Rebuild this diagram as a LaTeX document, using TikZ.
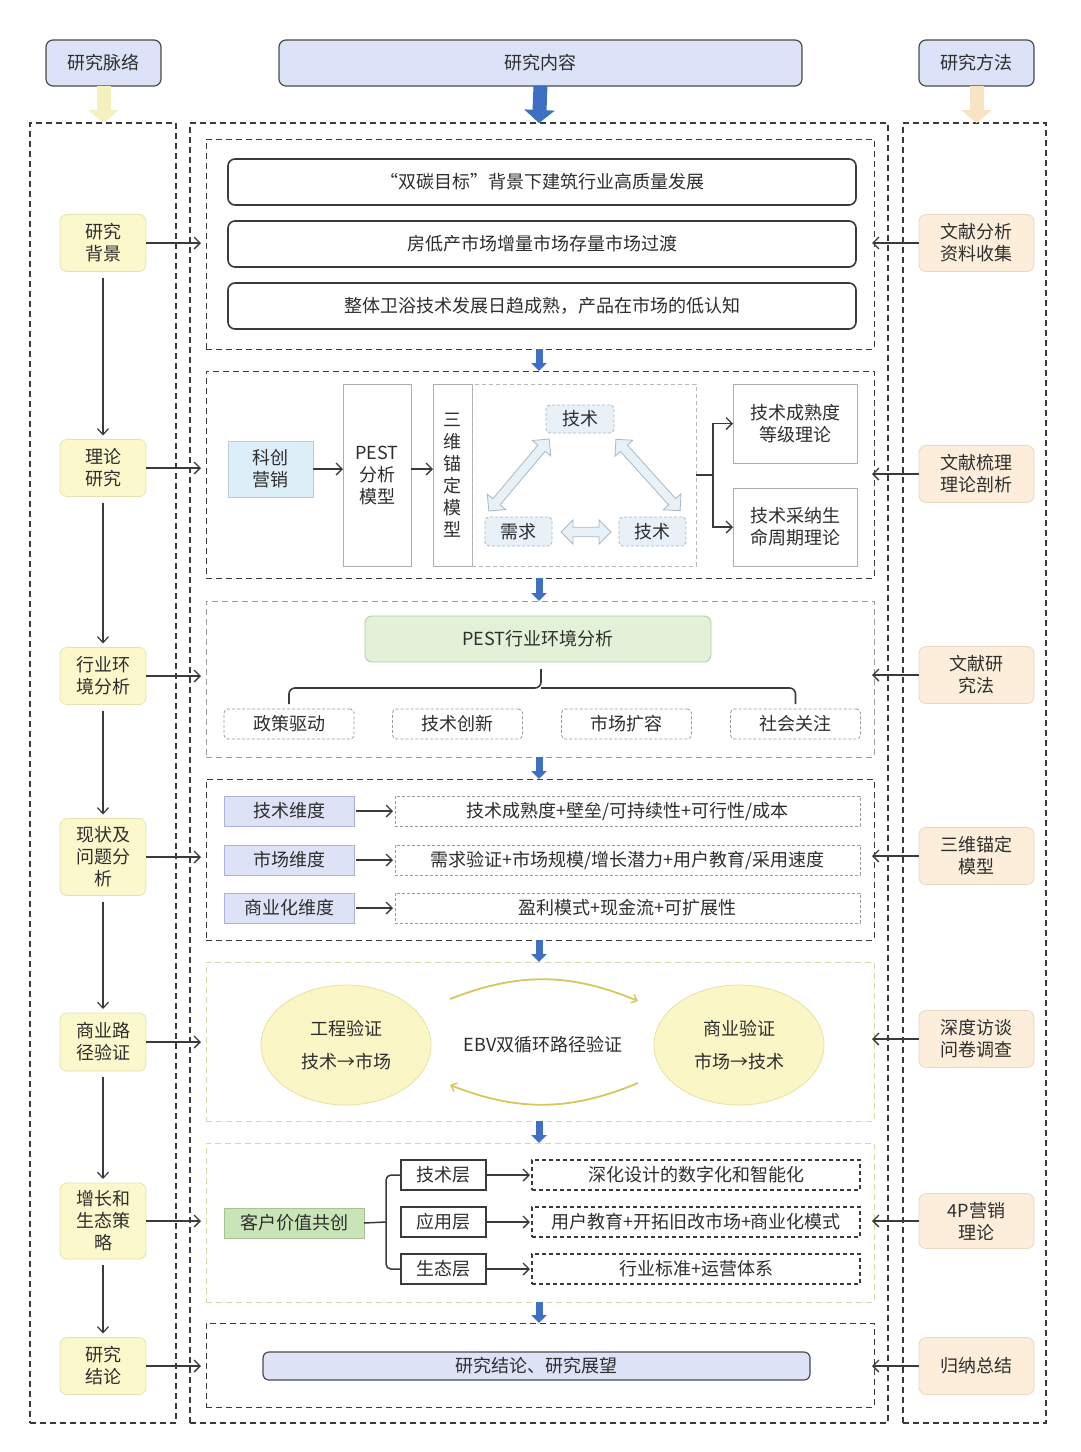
\documentclass[tikz,border=0pt]{standalone}
\usepackage{fontspec}
\setmainfont{Noto Sans CJK SC}
\usetikzlibrary{arrows.meta,shapes.geometric,shapes.arrows,calc}
\definecolor{txt}{HTML}{2E2E2E}
\definecolor{dk}{HTML}{3A3A3A}
\definecolor{hdrF}{HTML}{DCE2F7}
\definecolor{hdrB}{HTML}{4A4A4A}
\definecolor{lyF}{HTML}{FBF8CC}
\definecolor{lyB}{HTML}{E6E2AE}
\definecolor{rpF}{HTML}{FCEEDA}
\definecolor{rpB}{HTML}{E8D8BE}
\definecolor{blueA}{HTML}{3D6FC2}
\definecolor{paleY}{HTML}{F4F1BE}
\definecolor{paleP}{HTML}{F8E3C2}
\definecolor{kcF}{HTML}{DDEEF8}
\definecolor{kcB}{HTML}{B8CCDA}
\definecolor{triF}{HTML}{E8F1F8}
\definecolor{triB}{HTML}{A8B8C4}
\definecolor{grnF}{HTML}{E3F1D8}
\definecolor{grnB}{HTML}{B4CDA4}
\definecolor{kvF}{HTML}{C9E4B6}
\definecolor{kvB}{HTML}{A6C493}
\definecolor{lavF}{HTML}{DDE2F6}
\definecolor{lavB}{HTML}{A9B3D4}
\definecolor{ellF}{HTML}{FAF6C6}
\definecolor{ellB}{HTML}{E8E2A0}
\definecolor{arcC}{HTML}{D4C85C}
\definecolor{ydash}{HTML}{D6D8A8}
\definecolor{gbox}{HTML}{9A9A9A}
\begin{document}
\begin{tikzpicture}[x=1pt,y=-1pt,
  base/.style={inner sep=0pt, outer sep=0pt, text=txt, font=\fontsize{18pt}{22pt}\selectfont, align=center},
  hdr/.style={base, draw=hdrB, line width=1.2pt, rounded corners=7pt, fill=hdrF},
  colbox/.style={base, draw=dk, line width=1.1pt, dash pattern=on 6pt off 4pt},
  sec/.style={base, draw=dk, line width=1pt, dash pattern=on 6pt off 4pt},
  secG/.style={base, draw=gbox, line width=0.9pt, dash pattern=on 6pt off 4pt},
  secY/.style={base, draw=ydash, line width=1pt, dash pattern=on 6pt off 4pt},
  lnode/.style={base, fill=lyF, draw=lyB, line width=0.8pt, rounded corners=7pt, minimum width=86pt},
  rnode/.style={base, fill=rpF, draw=rpB, line width=0.8pt, rounded corners=7pt, minimum width=115pt},
  topic/.style={base, fill=white, draw=dk, line width=1.6pt, rounded corners=7pt, minimum width=628pt, minimum height=46pt},
  plain/.style={base, fill=white, draw=gbox!80, line width=0.8pt},
  tri/.style={base, fill=triF, draw=triB, line width=0.8pt, dash pattern=on 3pt off 2pt, rounded corners=4pt},
  dbl/.style={double arrow, draw=triB, fill=triF, line width=0.8pt, inner sep=3.5pt, minimum width=24pt, double arrow head extend=6pt, double arrow head indent=0pt},
  fac/.style={base, fill=white, draw=gbox, line width=0.8pt, dash pattern=on 3pt off 2pt, rounded corners=4pt, minimum width=130pt, minimum height=30pt},
  dim/.style={base, fill=lavF, draw=lavB, line width=0.8pt, minimum width=130pt, minimum height=30pt},
  dimtxt/.style={base, fill=white, draw=gbox, line width=0.8pt, dash pattern=on 3pt off 2pt, minimum width=465pt, minimum height=30pt},
  ell/.style={base, ellipse, fill=ellF, draw=ellB, line width=0.8pt, minimum width=170pt, minimum height=120pt, font=\fontsize{18pt}{33pt}\selectfont},
  layer/.style={base, fill=white, draw=dk, line width=1.5pt, minimum width=85pt, minimum height=30pt},
  outc/.style={base, fill=white, draw=dk, line width=1.5pt, dash pattern=on 4pt off 3pt, minimum width=328pt, minimum height=30pt},
  arr/.style={draw=dk, line width=1.3pt, -{Straight Barb[length=6pt,width=12pt,line width=1.3pt]}},
  varr/.style={draw=dk, line width=1.2pt, -{Straight Barb[length=6pt,width=11pt,line width=1.2pt]}},
  blk/.style={draw=blueA, line width=7pt, -{Triangle[width=15pt,length=8pt]}},
  bigarr/.style={line width=14pt, -{Triangle[width=30pt,length=13pt]}},
  arcarr/.style={draw=arcC, line width=1.8pt, -{Straight Barb[length=5pt,width=9pt,line width=1.5pt]}}
]
\useasboundingbox[fill=white] (0,0) rectangle (1080,1452);

% headers
\node[hdr, minimum width=115pt, minimum height=46pt] (hL) at (103.5,63) {研究脉络};
\node[hdr, minimum width=523pt, minimum height=46pt] (hC) at (540.5,63) {研究内容};
\node[hdr, minimum width=115pt, minimum height=46pt] (hR) at (976.5,63) {研究方法};

% columns
\node[colbox, minimum width=146pt, minimum height=1300pt] (colL) at (103,773) {};
\node[colbox, minimum width=698pt, minimum height=1300pt] (colC) at (539,773) {};
\node[colbox, minimum width=143pt, minimum height=1300pt] (colR) at (974.5,773) {};

\draw[bigarr, draw=paleY] (hL.south) -- (hL.south |- colL.north);
\draw[bigarr, draw=blueA] (hC.south) -- ([xshift=-1.5pt]hC.south |- colC.north);
\draw[bigarr, draw=paleP] (hR.south) -- (hR.south |- colR.north);

% sections
\node[sec, minimum width=668pt, minimum height=210pt] (s1) at (540,244) {};
\node[sec, minimum width=668pt, minimum height=207pt] (s2) at (540,474.5) {};
\node[secG, minimum width=668pt, minimum height=156pt] (s3) at (540,679) {};
\node[sec, minimum width=668pt, minimum height=161pt] (s4) at (540,859.5) {};
\node[secY, minimum width=668pt, minimum height=159pt] (s5) at (540,1041.5) {};
\node[secY, minimum width=668pt, minimum height=159pt] (s6) at (540,1222.5) {};
\node[sec, minimum width=668pt, minimum height=84pt] (s7) at (540,1365) {};

\foreach \a/\b in {s1/s2,s2/s3,s3/s4,s4/s5,s5/s6,s6/s7}
  \draw[blk] ([xshift=-1pt]\a.south) -- ([xshift=-1pt]\b.north);

% left nodes
\node[lnode, minimum height=57pt] (L1) at (103,243) {研究\\背景};
\node[lnode, minimum height=57pt] (L2) at (103,468) {理论\\研究};
\node[lnode, minimum height=57pt] (L3) at (103,676) {行业环\\境分析};
\node[lnode, minimum height=77pt] (L4) at (103,857) {现状及\\问题分\\析};
\node[lnode, minimum height=58pt] (L5) at (103,1042) {商业路\\径验证};
\node[lnode, minimum height=76pt] (L6) at (103,1221) {增长和\\生态策\\略};
\node[lnode, minimum height=57pt] (L7) at (103,1366) {研究\\结论};
\foreach \a/\b in {L1/L2,L2/L3,L3/L4,L4/L5,L5/L6,L6/L7}
  \draw[varr, shorten <=6pt, shorten >=4pt] (\a.south) -- (\b.north);

% right nodes
\node[rnode, minimum height=57pt] (R1) at (976.5,243) {文献分析\\资料收集};
\node[rnode, minimum height=57pt] (R2) at (976.5,474) {文献梳理\\理论剖析};
\node[rnode, minimum height=57pt] (R3) at (976.5,675) {文献研\\究法};
\node[rnode, minimum height=57pt] (R4) at (976.5,856) {三维锚定\\模型};
\node[rnode, minimum height=57pt] (R5) at (976.5,1039) {深度访谈\\问卷调查};
\node[rnode, minimum height=55pt] (R6) at (976.5,1221) {4P营销\\理论};
\node[rnode, minimum height=57pt] (R7) at (976.5,1366) {归纳总结};

% left -> center, right -> center
\foreach \i in {1,...,7}{
  \draw[arr, shorten >=5pt] (L\i.east) -- (L\i.east -| s\i.west);
  \draw[arr, shorten >=-2pt] (R\i.west) -- (R\i.west -| s\i.east);
}

% section 1
\node[topic] (t1) at (542,182) {“双碳目标”背景下建筑行业高质量发展};
\node[topic] (t2) at (542,244) {房低产市场增量市场存量市场过渡};
\node[topic] (t3) at (542,306) {整体卫浴技术发展日趋成熟，产品在市场的低认知};

% section 2
\node[base, fill=kcF, draw=kcB, line width=0.8pt, minimum width=85pt, minimum height=56pt] (kc) at (270.5,469) {科创\\营销};
\node[plain, minimum width=68pt, minimum height=182pt] (pest) at (377,475) {PEST\\分析\\模型};
\node[plain, minimum width=39pt, minimum height=182pt] (sw) at (452.5,475) {三\\维\\锚\\定\\模\\型};
\node[base, draw=gbox!70, line width=0.8pt, dash pattern=on 4pt off 3pt, minimum width=224pt, minimum height=182pt] (trib) at (584,475) {};
\node[tri, minimum width=68pt, minimum height=28pt] (tk1) at (580,419) {技术};
\node[tri, minimum width=67pt, minimum height=29pt] (xq) at (518.5,531.5) {需求};
\node[tri, minimum width=67pt, minimum height=29pt] (tk2) at (652.5,531.5) {技术};
\node[dbl, minimum height=94pt, rotate=50] (da1) at (519,475) {};
\node[dbl, minimum height=96pt, rotate=-48] (da2) at (648,475) {};
\node[dbl, minimum height=50pt] (da3) at (586,532) {};
\node[plain, minimum width=124pt, minimum height=79pt] (th1) at (795,423.5) {技术成熟度\\等级理论};
\node[plain, minimum width=124pt, minimum height=78pt] (th2) at (795,527) {技术采纳生\\命周期理论};
\draw[arr] (kc.east) -- (kc.east -| pest.west);
\draw[arr] (pest.east |- kc.east) -- (kc.east -| sw.west);
\coordinate (bj) at (713,475);
\draw[draw=dk, line width=1.3pt] (trib.east) -- (bj);
\draw[arr] (bj) |- (th1.west);
\draw[arr] (bj) |- (th2.west);

% section 3
\node[base, fill=grnF, draw=grnB, line width=0.9pt, rounded corners=7pt, minimum width=346pt, minimum height=46pt] (pe) at (538,639) {PEST行业环境分析};
\node[fac] (f1) at (289,724) {政策驱动};
\node[fac] (f2) at (457.5,724) {技术创新};
\node[fac] (f3) at (626.5,724) {市场扩容};
\node[fac] (f4) at (795.5,724) {社会关注};
\coordinate (bm) at (541,688);
\coordinate (bt) at (541,669);
\draw[draw=dk, line width=1.6pt, rounded corners=6pt] ([yshift=5pt]f1.north) |- (bm) -- (bt);
\draw[draw=dk, line width=1.6pt, rounded corners=6pt] ([yshift=5pt]f4.north) |- (bm);

% section 4
\node[dim] (d1) at (289,811) {技术维度};
\node[dim] (d2) at (289,860) {市场维度};
\node[dim] (d3) at (289,908) {商业化维度};
\node[dimtxt] (e1) at (627.5,811) {技术成熟度+壁垒/可持续性+可行性/成本};
\node[dimtxt] (e2) at (627.5,860) {需求验证+市场规模/增长潜力+用户教育/采用速度};
\node[dimtxt] (e3) at (627.5,908) {盈利模式+现金流+可扩展性};
\foreach \i in {1,2,3}
  \draw[arr, shorten <=2pt, shorten >=2pt] (d\i.east) -- (e\i.west);

% section 5
\node[ell] (el1) at (346,1045) {工程验证\\技术→市场};
\node[ell] (el2) at (739,1045) {商业验证\\市场→技术};
\node[base] (ebv) at (543,1045) {EBV双循环路径验证};
\coordinate (a1) at (450,999);
\coordinate (a2) at (638,1001);
\coordinate (a3) at (638,1083);
\coordinate (a4) at (450,1085);
\draw[arcarr] (a1) to[bend left=22] (a2);
\draw[arcarr] (a3) to[bend left=22] (a4);

% section 6
\node[base, fill=kvF, draw=kvB, line width=0.8pt, minimum width=140pt, minimum height=30pt] (kv) at (294,1223) {客户价值共创};
\node[layer] (c1) at (443.5,1175) {技术层};
\node[layer] (c2) at (443.5,1222) {应用层};
\node[layer] (c3) at (443.5,1269) {生态层};
\node[outc] (o1) at (696,1175) {深化设计的数字化和智能化};
\node[outc] (o2) at (696,1222) {用户教育+开拓旧改市场+商业化模式};
\node[outc] (o3) at (696,1269) {行业标准+运营体系};
\coordinate (bk) at (386,1222);
\draw[draw=dk, line width=1.5pt] (kv.east) -- (bk);
\draw[draw=dk, line width=1.5pt, rounded corners=5pt] (c1.west) -| (bk);
\draw[draw=dk, line width=1.5pt, rounded corners=5pt] (c3.west) -| (bk);
\foreach \i in {1,2,3}
  \draw[arr, shorten <=1pt, shorten >=2pt] (c\i.east) -- (o\i.west);

% section 7
\node[base, fill=lavF, draw=hdrB, line width=1.2pt, rounded corners=6pt, minimum width=547pt, minimum height=28pt] (con) at (536.5,1366) {研究结论、研究展望};
\end{tikzpicture}
\end{document}
